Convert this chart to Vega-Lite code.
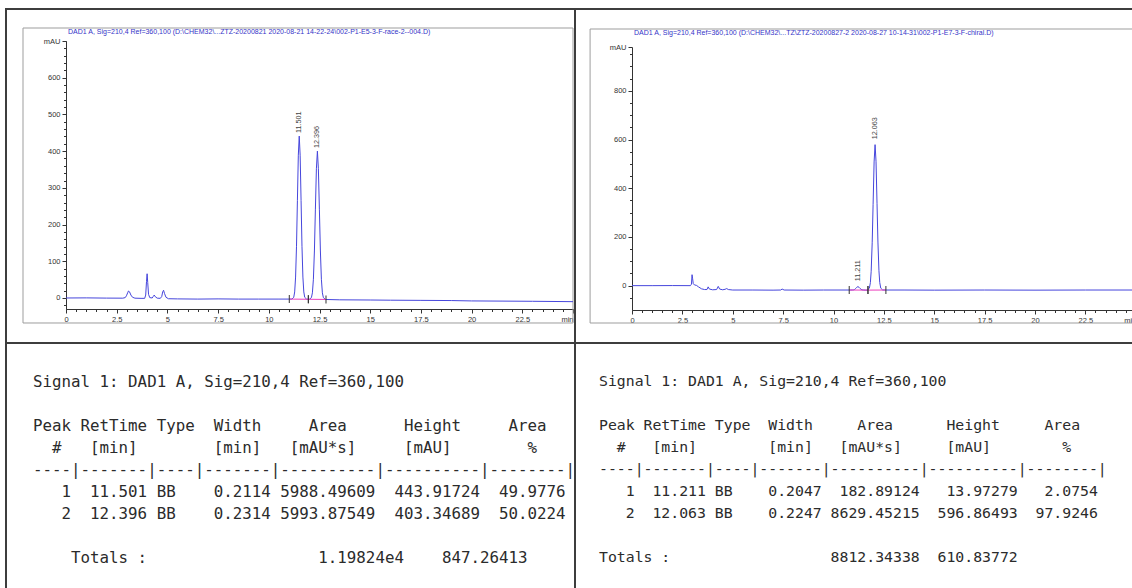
{
  "$schema": "https://vega.github.io/schema/vega-lite/v6.json",
  "background": "white",
  "padding": {"left": 5, "top": 8, "right": 0, "bottom": 0},
  "columns": 2,
  "spacing": 0,
  "bounds": "flush",
  "config": {
    "view": {"stroke": "#3d3d3d", "strokeWidth": 2},
    "concat": {"spacing": 0},
    "axis": {
      "grid": false,
      "domainColor": "#333333",
      "tickColor": "#333333",
      "labelColor": "#333333",
      "labelFont": "Liberation Sans",
      "labelFontSize": 7.5,
      "labelFlush": false,
      "labelOverlap": false,
      "domainWidth": 1,
      "tickWidth": 1
    }
  },
  "datasets": {
    "traceL": [
      {"t": 0, "v": 0}, {"t": 1, "v": 0.3}, {"t": 2, "v": -0.3}, {"t": 2.8, "v": -0.5},
      {"t": 2.92, "v": 1}, {"t": 2.98, "v": 6}, {"t": 3.04, "v": 14}, {"t": 3.08, "v": 19},
      {"t": 3.13, "v": 17}, {"t": 3.2, "v": 8}, {"t": 3.28, "v": 2}, {"t": 3.4, "v": -0.5},
      {"t": 3.7, "v": -1}, {"t": 3.88, "v": -1}, {"t": 3.93, "v": 8}, {"t": 3.97, "v": 45},
      {"t": 4.0, "v": 66}, {"t": 4.03, "v": 42}, {"t": 4.07, "v": 10}, {"t": 4.13, "v": 1},
      {"t": 4.25, "v": 0}, {"t": 4.3, "v": 4}, {"t": 4.35, "v": 8}, {"t": 4.41, "v": 3},
      {"t": 4.5, "v": -0.5}, {"t": 4.65, "v": -1}, {"t": 4.72, "v": 4}, {"t": 4.77, "v": 17},
      {"t": 4.81, "v": 21}, {"t": 4.86, "v": 12}, {"t": 4.93, "v": 2}, {"t": 5.05, "v": -2},
      {"t": 5.5, "v": -2.5}, {"t": 6.5, "v": -3}, {"t": 7.5, "v": -2.5}, {"t": 8.5, "v": -3},
      {"t": 9.5, "v": -3}, {"t": 10.5, "v": -3}, {"t": 11.0, "v": -3}, {"t": 11.14, "v": -3},
      {"t": 11.23, "v": 1.9}, {"t": 11.276, "v": 16.5}, {"t": 11.321, "v": 57}, {"t": 11.366, "v": 141},
      {"t": 11.411, "v": 266}, {"t": 11.456, "v": 389}, {"t": 11.501, "v": 441}, {"t": 11.546, "v": 389},
      {"t": 11.591, "v": 266}, {"t": 11.636, "v": 141}, {"t": 11.681, "v": 57}, {"t": 11.726, "v": 16.5},
      {"t": 11.77, "v": 1.9}, {"t": 11.86, "v": -3}, {"t": 11.95, "v": -3.5}, {"t": 12.003, "v": -3.5},
      {"t": 12.101, "v": 1}, {"t": 12.15, "v": 14}, {"t": 12.199, "v": 51}, {"t": 12.249, "v": 128},
      {"t": 12.298, "v": 242}, {"t": 12.347, "v": 352}, {"t": 12.396, "v": 400}, {"t": 12.445, "v": 352},
      {"t": 12.494, "v": 242}, {"t": 12.544, "v": 128}, {"t": 12.593, "v": 51}, {"t": 12.642, "v": 14},
      {"t": 12.691, "v": 1}, {"t": 12.789, "v": -4}, {"t": 13.5, "v": -5}, {"t": 15, "v": -5.5},
      {"t": 16, "v": -6}, {"t": 17.5, "v": -6.5}, {"t": 19, "v": -7}, {"t": 20, "v": -8},
      {"t": 21.5, "v": -8.5}, {"t": 23, "v": -9}, {"t": 25, "v": -10}
    ],
    "traceR": [
      {"t": 0, "v": 0}, {"t": 1, "v": 0}, {"t": 2, "v": 0.3}, {"t": 2.9, "v": 0},
      {"t": 2.95, "v": 6}, {"t": 2.98, "v": 45}, {"t": 3.01, "v": 28}, {"t": 3.04, "v": 8},
      {"t": 3.1, "v": 3}, {"t": 3.2, "v": 1}, {"t": 3.3, "v": -5}, {"t": 3.45, "v": -13},
      {"t": 3.6, "v": -16}, {"t": 3.72, "v": -16}, {"t": 3.78, "v": -5}, {"t": 3.84, "v": -14},
      {"t": 4.0, "v": -17}, {"t": 4.2, "v": -16}, {"t": 4.28, "v": -3}, {"t": 4.35, "v": -14},
      {"t": 4.5, "v": -17}, {"t": 4.62, "v": -15}, {"t": 4.7, "v": -12}, {"t": 4.78, "v": -16},
      {"t": 5.0, "v": -18}, {"t": 6.0, "v": -18}, {"t": 7.0, "v": -18.5}, {"t": 7.38, "v": -18},
      {"t": 7.45, "v": -14}, {"t": 7.55, "v": -18}, {"t": 8.5, "v": -18.5}, {"t": 9.5, "v": -18},
      {"t": 10.78, "v": -18}, {"t": 10.86, "v": -18}, {"t": 10.95, "v": -17.8}, {"t": 11.0, "v": -17.3},
      {"t": 11.05, "v": -15.5}, {"t": 11.1, "v": -11.8}, {"t": 11.15, "v": -7.1}, {"t": 11.211, "v": -4},
      {"t": 11.27, "v": -6.9}, {"t": 11.32, "v": -11.6}, {"t": 11.37, "v": -15.4}, {"t": 11.42, "v": -17.2},
      {"t": 11.5, "v": -18}, {"t": 11.6, "v": -18.5}, {"t": 11.68, "v": -18.3}, {"t": 11.78, "v": -10.7},
      {"t": 11.83, "v": 12.3}, {"t": 11.87, "v": 59.2}, {"t": 11.92, "v": 176}, {"t": 11.965, "v": 334},
      {"t": 12.015, "v": 508}, {"t": 12.063, "v": 579}, {"t": 12.11, "v": 511}, {"t": 12.16, "v": 338},
      {"t": 12.205, "v": 179}, {"t": 12.255, "v": 61}, {"t": 12.295, "v": 13}, {"t": 12.345, "v": -10.4},
      {"t": 12.44, "v": -17.8}, {"t": 12.6, "v": -18}, {"t": 13.5, "v": -18}, {"t": 15, "v": -18.5},
      {"t": 17.5, "v": -18}, {"t": 20, "v": -18.5}, {"t": 22.5, "v": -18}, {"t": 25, "v": -18}
    ],
    "baseL": [
      {"seg": 1, "t": 11.01, "v": -3}, {"seg": 1, "t": 11.95, "v": -3.5},
      {"seg": 2, "t": 11.95, "v": -3.5}, {"seg": 2, "t": 12.82, "v": -4}
    ],
    "baseR": [
      {"seg": 1, "t": 10.78, "v": -18}, {"seg": 1, "t": 11.71, "v": -18.3},
      {"seg": 2, "t": 11.71, "v": -18.3}, {"seg": 2, "t": 12.6, "v": -18}
    ],
    "peaksL": [
      {"peak": 1, "rt": 11.501, "height": 443.91724},
      {"peak": 2, "rt": 12.396, "height": 403.34689}
    ],
    "peaksR": [
      {"peak": 1, "rt": 11.211, "height": 13.97279},
      {"peak": 2, "rt": 12.063, "height": 596.86493}
    ],
    "reportL": [
      {"line": 0, "text": "Signal\u00a01:\u00a0DAD1\u00a0A,\u00a0Sig=210,4\u00a0Ref=360,100"},
      {"line": 2, "text": "Peak\u00a0RetTime\u00a0Type\u00a0\u00a0Width\u00a0\u00a0\u00a0\u00a0\u00a0Area\u00a0\u00a0\u00a0\u00a0\u00a0\u00a0Height\u00a0\u00a0\u00a0\u00a0\u00a0Area"},
      {"line": 3, "text": "\u200b\u00a0\u00a0#\u00a0\u00a0\u00a0[min]\u00a0\u00a0\u00a0\u00a0\u00a0\u00a0\u00a0\u00a0[min]\u00a0\u00a0\u00a0[mAU*s]\u00a0\u00a0\u00a0\u00a0\u00a0[mAU]\u00a0\u00a0\u00a0\u00a0\u00a0\u00a0\u00a0\u00a0%"},
      {"line": 4, "text": "----|-------|----|-------|----------|----------|--------|"},
      {"line": 5, "text": "\u200b\u00a0\u00a0\u00a01\u00a0\u00a011.501\u00a0BB\u00a0\u00a0\u00a0\u00a00.2114\u00a05988.49609\u00a0\u00a0443.91724\u00a0\u00a049.9776"},
      {"line": 6, "text": "\u200b\u00a0\u00a0\u00a02\u00a0\u00a012.396\u00a0BB\u00a0\u00a0\u00a0\u00a00.2314\u00a05993.87549\u00a0\u00a0403.34689\u00a0\u00a050.0224"},
      {"line": 8, "text": "\u200b\u00a0\u00a0\u00a0\u00a0Totals\u00a0:\u00a0\u00a0\u00a0\u00a0\u00a0\u00a0\u00a0\u00a0\u00a0\u00a0\u00a0\u00a0\u00a0\u00a0\u00a0\u00a0\u00a0\u00a01.19824e4\u00a0\u00a0\u00a0\u00a0847.26413"}
    ],
    "reportR": [
      {"line": 0, "text": "Signal\u00a01:\u00a0DAD1\u00a0A,\u00a0Sig=210,4\u00a0Ref=360,100"},
      {"line": 2, "text": "Peak\u00a0RetTime\u00a0Type\u00a0\u00a0Width\u00a0\u00a0\u00a0\u00a0\u00a0Area\u00a0\u00a0\u00a0\u00a0\u00a0\u00a0Height\u00a0\u00a0\u00a0\u00a0\u00a0Area"},
      {"line": 3, "text": "\u200b\u00a0\u00a0#\u00a0\u00a0\u00a0[min]\u00a0\u00a0\u00a0\u00a0\u00a0\u00a0\u00a0\u00a0[min]\u00a0\u00a0\u00a0[mAU*s]\u00a0\u00a0\u00a0\u00a0\u00a0[mAU]\u00a0\u00a0\u00a0\u00a0\u00a0\u00a0\u00a0\u00a0%"},
      {"line": 4, "text": "----|-------|----|-------|----------|----------|--------|"},
      {"line": 5, "text": "\u200b\u00a0\u00a0\u00a01\u00a0\u00a011.211\u00a0BB\u00a0\u00a0\u00a0\u00a00.2047\u00a0\u00a0182.89124\u00a0\u00a0\u00a013.97279\u00a0\u00a0\u00a02.0754"},
      {"line": 6, "text": "\u200b\u00a0\u00a0\u00a02\u00a0\u00a012.063\u00a0BB\u00a0\u00a0\u00a0\u00a00.2247\u00a08629.45215\u00a0\u00a0596.86493\u00a0\u00a097.9246"},
      {"line": 8, "text": "Totals\u00a0:\u00a0\u00a0\u00a0\u00a0\u00a0\u00a0\u00a0\u00a0\u00a0\u00a0\u00a0\u00a0\u00a0\u00a0\u00a0\u00a0\u00a0\u00a08812.34338\u00a0\u00a0610.83772"}
    ]
  },
  "concat": [
    {
      "width": 569,
      "height": 334,
      "resolve": {"scale": {"x": "independent", "y": "independent"}, "axis": {"x": "independent", "y": "independent"}},
      "layer": [
        {
          "data": {"values": [{}]},
          "mark": {"type": "rect", "fill": "transparent", "stroke": "#9d9d9d", "strokeWidth": 1},
          "encoding": {
            "x": {"datum": -2.12, "type": "quantitative",
              "scale": {"domain": [0, 25], "range": [60, 567], "nice": false, "zero": false},
              "axis": {"orient": "bottom", "offset": -34, "title": null, "labels": false, "domain": false, "tickSize": 2.5,
                "values": [0,0.5,1,1.5,2,2.5,3,3.5,4,4.5,5,5.5,6,6.5,7,7.5,8,8.5,9,9.5,10,10.5,11,11.5,12,12.5,13,13.5,14,14.5,15,15.5,16,16.5,17,17.5,18,18.5,19,19.5,20,20.5,21,21.5,22,22.5,23,23.5,24,24.5,25]}},
            "x2": {"datum": 25},
            "y": {"datum": 735.4, "type": "quantitative",
              "scale": {"domain": [-30, 700], "range": [300, 32], "nice": false, "zero": false},
              "axis": {"orient": "left", "offset": -60, "title": null, "labels": false, "domain": false, "tickSize": 2.5,
                "values": [-20,0,20,40,60,80,100,120,140,160,180,200,220,240,260,280,300,320,340,360,380,400,420,440,460,480,500,520,540,560,580,600,620,640,660,680,700]}},
            "y2": {"datum": -68.1}
          }
        },
        {
          "layer": [
            {
              "data": {"name": "traceL"},
              "mark": {"type": "line", "color": "#4646dc", "strokeWidth": 1},
              "encoding": {
                "x": {"field": "t", "type": "quantitative", "title": null,
                  "scale": {"domain": [0, 25], "range": [60, 567], "nice": false, "zero": false},
                  "axis": {"orient": "bottom", "offset": -34, "tickSize": 4, "labelPadding": 2,
                    "values": [0, 2.5, 5, 7.5, 10, 12.5, 15, 17.5, 20, 22.5, 25],
                    "labelExpr": "datum.value === 25 ? 'min' : '' + datum.value",
                    "labelAlign": {"condition": {"test": "datum.value === 25", "value": "right"}, "value": "center"}}},
                "y": {"field": "v", "type": "quantitative", "title": null,
                  "scale": {"domain": [-30, 700], "range": [300, 32], "nice": false, "zero": false},
                  "axis": {"orient": "left", "offset": -60, "tickSize": 4, "labelPadding": 2,
                    "values": [0, 100, 200, 300, 400, 500, 600, 700],
                    "labelExpr": "datum.value === 700 ? 'mAU' : '' + datum.value"}}
              }
            },
            {
              "data": {"name": "baseL"},
              "mark": {"type": "line", "color": "#ec3fbd", "strokeWidth": 1},
              "encoding": {
                "x": {"field": "t", "type": "quantitative", "title": null},
                "y": {"field": "v", "type": "quantitative", "title": null},
                "detail": {"field": "seg"}
              }
            },
            {
              "data": {"name": "baseL"},
              "mark": {"type": "tick", "orient": "vertical", "size": 8, "thickness": 1, "color": "#333333", "opacity": 1},
              "encoding": {
                "x": {"field": "t", "type": "quantitative", "title": null},
                "y": {"field": "v", "type": "quantitative", "title": null}
              }
            },
            {
              "data": {"name": "peaksL"},
              "mark": {"type": "text", "angle": 270, "align": "left", "baseline": "middle", "dx": 2, "font": "Liberation Sans", "fontSize": 7.2, "color": "#444444"},
              "encoding": {
                "x": {"field": "rt", "type": "quantitative", "title": null},
                "y": {"field": "height", "type": "quantitative", "title": null},
                "text": {"field": "rt", "type": "quantitative", "format": ".3f"}
              }
            },
            {
              "data": {"values": [{}]},
              "mark": {"type": "text", "align": "left", "baseline": "middle", "font": "Liberation Sans", "fontSize": 7, "color": "#3434c8",
                "text": "DAD1 A, Sig=210,4 Ref=360,100 (D:\\CHEM32\\...ZTZ-20200821 2020-08-21 14-22-24\\002-P1-E5-3-F-race-2--004.D)"},
              "encoding": {
                "x": {"datum": 0.1},
                "y": {"datum": 724.5}
              }
            }
          ]
        }
      ]
    },
    {
      "width": 580,
      "height": 334,
      "resolve": {"scale": {"x": "independent", "y": "independent"}, "axis": {"x": "independent", "y": "independent"}},
      "layer": [
        {
          "data": {"values": [{}]},
          "mark": {"type": "rect", "fill": "transparent", "stroke": "#9d9d9d", "strokeWidth": 1},
          "encoding": {
            "x": {"datum": -2.08, "type": "quantitative",
              "scale": {"domain": [0, 25], "range": [57, 560.75], "nice": false, "zero": false},
              "axis": {"orient": "bottom", "offset": -33, "title": null, "labels": false, "domain": false, "tickSize": 2.5,
                "values": [0,0.5,1,1.5,2,2.5,3,3.5,4,4.5,5,5.5,6,6.5,7,7.5,8,8.5,9,9.5,10,10.5,11,11.5,12,12.5,13,13.5,14,14.5,15,15.5,16,16.5,17,17.5,18,18.5,19,19.5,20,20.5,21,21.5,22,22.5,23,23.5,24,24.5,25]}},
            "x2": {"datum": 27.5},
            "y": {"datum": 1053.9, "type": "quantitative",
              "scale": {"domain": [-100, 980], "range": [301, 38], "nice": false, "zero": false},
              "axis": {"orient": "left", "offset": -57, "title": null, "labels": false, "domain": false, "tickSize": 2.5,
                "values": [-50,0,50,100,150,200,250,300,350,400,450,500,550,600,650,700,750,800,850,900,950]}},
            "y2": {"datum": -153.4}
          }
        },
        {
          "layer": [
            {
              "data": {"name": "traceR"},
              "mark": {"type": "line", "color": "#4646dc", "strokeWidth": 1},
              "encoding": {
                "x": {"field": "t", "type": "quantitative", "title": null,
                  "scale": {"domain": [0, 25], "range": [57, 560.75], "nice": false, "zero": false},
                  "axis": {"orient": "bottom", "offset": -33, "tickSize": 4, "labelPadding": 2,
                    "values": [0, 2.5, 5, 7.5, 10, 12.5, 15, 17.5, 20, 22.5, 25],
                    "labelExpr": "datum.value === 25 ? 'min' : '' + datum.value",
                    "labelAlign": {"condition": {"test": "datum.value === 25", "value": "right"}, "value": "center"}}},
                "y": {"field": "v", "type": "quantitative", "title": null,
                  "scale": {"domain": [-100, 980], "range": [301, 38], "nice": false, "zero": false},
                  "axis": {"orient": "left", "offset": -57, "tickSize": 4, "labelPadding": 2,
                    "values": [0, 200, 400, 600, 800, 980],
                    "labelExpr": "datum.value === 980 ? 'mAU' : '' + datum.value"}}
              }
            },
            {
              "data": {"name": "baseR"},
              "mark": {"type": "line", "color": "#ec3fbd", "strokeWidth": 1},
              "encoding": {
                "x": {"field": "t", "type": "quantitative", "title": null},
                "y": {"field": "v", "type": "quantitative", "title": null},
                "detail": {"field": "seg"}
              }
            },
            {
              "data": {"name": "baseR"},
              "mark": {"type": "tick", "orient": "vertical", "size": 8, "thickness": 1, "color": "#333333", "opacity": 1},
              "encoding": {
                "x": {"field": "t", "type": "quantitative", "title": null},
                "y": {"field": "v", "type": "quantitative", "title": null}
              }
            },
            {
              "data": {"name": "peaksR"},
              "mark": {"type": "text", "angle": 270, "align": "left", "baseline": "middle", "dx": 1, "font": "Liberation Sans", "fontSize": 7.2, "color": "#444444"},
              "encoding": {
                "x": {"field": "rt", "type": "quantitative", "title": null},
                "y": {"field": "height", "type": "quantitative", "title": null},
                "text": {"field": "rt", "type": "quantitative", "format": ".3f"}
              }
            },
            {
              "data": {"values": [{}]},
              "mark": {"type": "text", "align": "left", "baseline": "middle", "font": "Liberation Sans", "fontSize": 7, "color": "#3434c8",
                "text": "DAD1 A, Sig=210,4 Ref=360,100 (D:\\CHEM32\\...TZ\\ZTZ-20200827-2 2020-08-27 10-14-31\\002-P1-E7-3-F-chiral.D)"},
              "encoding": {
                "x": {"datum": 0.1},
                "y": {"datum": 1037.5}
              }
            }
          ]
        }
      ]
    },
    {
      "width": 569,
      "height": 260,
      "data": {"name": "reportL"},
      "mark": {"type": "text", "align": "left", "baseline": "middle", "font": "DejaVu Sans Mono", "fontSize": 15.8, "color": "#2b2b2b"},
      "encoding": {
        "x": {"datum": 0, "type": "quantitative", "scale": {"domain": [0, 56], "range": [27, 559], "nice": false, "zero": false}, "axis": null},
        "y": {"field": "line", "type": "quantitative", "scale": {"domain": [0, 8], "range": [38.5, 215.3], "nice": false, "zero": false}, "axis": null},
        "text": {"field": "text"}
      }
    },
    {
      "width": 580,
      "height": 260,
      "data": {"name": "reportR"},
      "mark": {"type": "text", "align": "left", "baseline": "middle", "font": "DejaVu Sans Mono", "fontSize": 14.8, "color": "#2b2b2b"},
      "encoding": {
        "x": {"datum": 0, "type": "quantitative", "scale": {"domain": [0, 56], "range": [24, 522.4], "nice": false, "zero": false}, "axis": null},
        "y": {"field": "line", "type": "quantitative", "scale": {"domain": [0, 8], "range": [38.5, 215.3], "nice": false, "zero": false}, "axis": null},
        "text": {"field": "text"}
      }
    }
  ]
}
